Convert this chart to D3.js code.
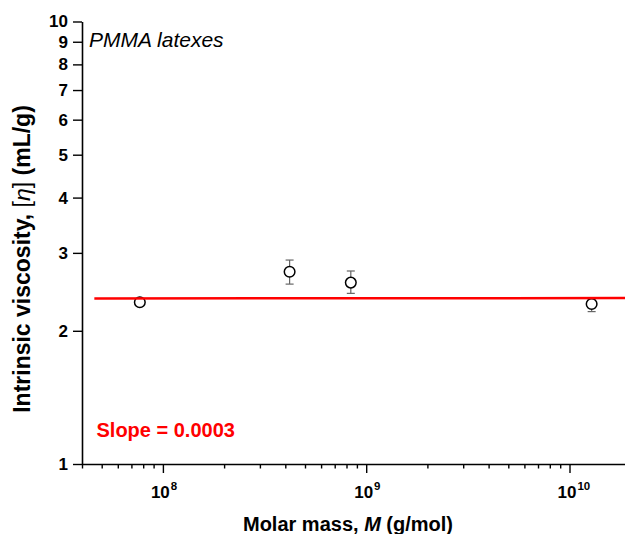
<!DOCTYPE html>
<html>
<head>
<meta charset="utf-8">
<script src="https://cdn.jsdelivr.net/npm/d3@7"></script>
<style>
  html, body { margin: 0; padding: 0; background: #fff; }
  svg { display: block; font-family: "Liberation Sans", Arial, sans-serif; }
</style>
</head>
<body>
<svg id="chart" width="625" height="534"></svg>
<script>
// ---- data ----
const molarMass = [7.7e7, 4.2e8, 8.4e8, 1.285e10];
const viscosity = [2.32, 2.72, 2.57, 2.30];
const errLow    = [2.30, 2.55, 2.43, 2.21];
const errHigh   = [2.34, 2.89, 2.73, 2.36];
const fitSlope = 0.0003;
const fitLogIntercept = 0.3719;
const fitRange = [4.6e7, 2.0e10];
const yTickValues = [1, 2, 3, 4, 5, 6, 7, 8, 9, 10];
const xMajorTicks = [1e8, 1e9, 1e10];
const xMajorExponents = ["8", "9", "10"];
const xDomain = [4e7, 2e10];
const yDomain = [1, 10];

// ---- layout ----
const svg = d3.select("#chart");
const x0 = 82, pxPerDecade = 203.3;
const x = d3.scaleLog().domain(xDomain)
  .range([x0, x0 + Math.log10(xDomain[1] / xDomain[0]) * pxPerDecade]);
const y = d3.scaleLog().domain(yDomain).range([464, 21.5]);

// y axis
const yAxis = svg.append("g").attr("transform", `translate(${x0},0)`)
  .call(d3.axisLeft(y).tickValues(yTickValues).tickSize(9).tickSizeOuter(0)
    .tickFormat(d3.format("d")).tickPadding(5));
yAxis.attr("font-size", 17).attr("font-family", "Liberation Sans, Arial, sans-serif");
yAxis.select(".domain").attr("stroke", "#000").attr("stroke-width", 1.6);
yAxis.selectAll(".tick line").attr("stroke", "#000").attr("stroke-width", 1.4);
yAxis.selectAll(".tick text").attr("font-size", 17).attr("font-weight", "bold")
  .attr("fill", "#000");

// x axis minor
const xMinor = x.ticks().filter(v => !xMajorTicks.includes(v));
const xMinorAxis = svg.append("g").attr("transform", `translate(0,${y(1)})`)
  .call(d3.axisBottom(x).tickValues(xMinor).tickSize(4.5).tickSizeOuter(0).tickFormat(""));
xMinorAxis.select(".domain").attr("stroke", "#000").attr("stroke-width", 1.6);
xMinorAxis.selectAll(".tick line").attr("stroke", "#000").attr("stroke-width", 1.4);

// x axis major
const xMajorAxis = svg.append("g").attr("transform", `translate(0,${y(1)})`)
  .call(d3.axisBottom(x).tickValues(xMajorTicks).tickSize(9).tickSizeOuter(0).tickFormat(""));
xMajorAxis.select(".domain").remove();
xMajorAxis.selectAll(".tick line").attr("stroke", "#000").attr("stroke-width", 1.4);

const xLabels = svg.append("g");
xMajorTicks.forEach((v, i) => {
  const t = xLabels.append("text")
    .attr("x", x(v) - 12).attr("y", 497.5)
    .attr("font-size", 17).attr("font-weight", "bold").attr("fill", "#000");
  t.append("tspan").text("10");
  t.append("tspan").attr("font-size", 11.5).attr("dy", -7.5).attr("dx", 1).text(xMajorExponents[i]);
});

// error bars
const capW = 4;
const eb = svg.append("g").attr("stroke", "#666").attr("stroke-width", 1.2);
molarMass.forEach((m, i) => {
  const cx = x(m);
  eb.append("line").attr("x1", cx).attr("x2", cx).attr("y1", y(errLow[i])).attr("y2", y(errHigh[i]));
  eb.append("line").attr("x1", cx - capW).attr("x2", cx + capW).attr("y1", y(errLow[i])).attr("y2", y(errLow[i]));
  eb.append("line").attr("x1", cx - capW).attr("x2", cx + capW).attr("y1", y(errHigh[i])).attr("y2", y(errHigh[i]));
});

// points
svg.append("g").selectAll("circle").data(molarMass).join("circle")
  .attr("cx", d => x(d)).attr("cy", (d, i) => y(viscosity[i])).attr("r", 5.3)
  .attr("fill", "#fff").attr("stroke", "#000").attr("stroke-width", 1.5);

// fit line
const fitPts = fitRange.map(m => [m, Math.pow(10, fitLogIntercept + fitSlope * Math.log10(m))]);
svg.append("path").datum(fitPts)
  .attr("d", d3.line().x(d => x(d[0])).y(d => y(d[1])))
  .attr("fill", "none").attr("stroke", "#ff0000").attr("stroke-width", 2.5);

// texts
svg.append("text").attr("x", 89).attr("y", 46.7)
  .attr("font-size", 21).attr("font-style", "italic").attr("fill", "#000")
  .text("PMMA latexes");

svg.append("text").attr("x", 96.5).attr("y", 436.7)
  .attr("font-size", 20).attr("font-weight", "bold").attr("fill", "#ff0000")
  .text("Slope = 0.0003");

const xt = svg.append("text").attr("x", 348).attr("y", 531).attr("text-anchor", "middle")
  .attr("font-size", 20).attr("font-weight", "bold").attr("fill", "#000");
xt.append("tspan").text("Molar mass, ");
xt.append("tspan").attr("font-style", "italic").text("M");
xt.append("tspan").text(" (g/mol)");

const yt = svg.append("text").attr("transform", "translate(30,259) rotate(-90)")
  .attr("text-anchor", "middle").attr("font-size", 23).attr("font-weight", "bold").attr("fill", "#000");
yt.append("tspan").text("Intrinsic viscosity, ");
yt.append("tspan").attr("font-weight", "normal").text("[");
yt.append("tspan").attr("font-weight", "normal").attr("font-style", "italic").text("η");
yt.append("tspan").attr("font-weight", "normal").text("]");
yt.append("tspan").text(" (mL/g)");
</script>
</body>
</html>
